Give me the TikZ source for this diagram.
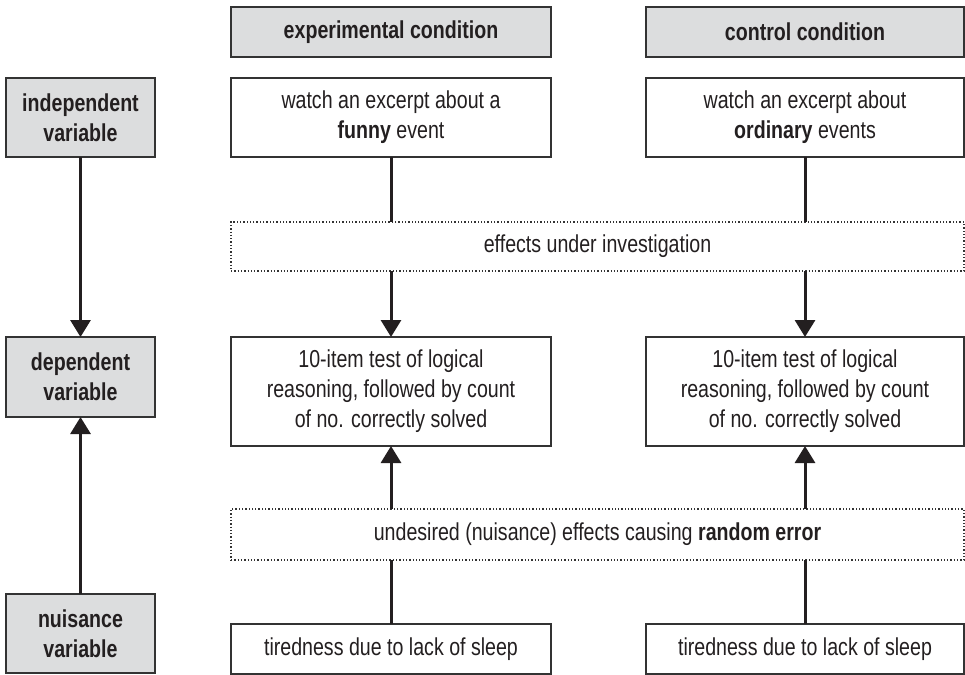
\documentclass[tikz,border=0pt]{standalone}
\usepackage{fontspec}
\setmainfont{Liberation Sans}[FakeStretch=0.8]
\usetikzlibrary{arrows.meta}
\definecolor{boxgray}{HTML}{DCDDDE}
\definecolor{ink}{HTML}{231F20}
\definecolor{edge}{HTML}{333333}
\begin{document}
\begin{tikzpicture}[x=1pt,y=-1pt,
  every node/.style={inner sep=0pt, outer sep=0pt, align=center, text=ink,
    font=\fontsize{24.5}{30}\selectfont},
  plainbox/.style={draw=edge, line width=1.4pt, fill=white},
  graybox/.style={draw=edge, line width=1.4pt, fill=boxgray, font=\fontsize{24.5}{30}\selectfont\bfseries},
  dotbox/.style={draw=edge, line width=1.3pt, dotted},
  sz/.style n args={2}{minimum width=#1pt, minimum height=#2pt},
  link/.style={draw=ink, line width=3pt},
  arr/.style={link, -{Triangle[width=20pt,length=17pt]}}
]
\useasboundingbox (0,0) rectangle (965,674);
% headers
\node[graybox, sz={320}{50}] (hexp) at (391,32) {experimental condition};
\node[graybox, sz={318}{50}] (hctl) at (805,32) {control condition};
% left column
\node[graybox, sz={149}{79}] (indep) at (80.5,117.5) {independent\\variable};
\node[graybox, sz={149}{80}] (dep) at (80.5,377) {dependent\\variable};
\node[graybox, sz={149}{79}] (nuisv) at (80.5,633.5) {nuisance\\variable};
% row 1
\node[plainbox, sz={320}{79}] (exp1) at (391,117.5) {watch an excerpt about a\\\textbf{funny} event};
\node[plainbox, sz={318}{79}] (ctl1) at (805,117.5) {watch an excerpt about\\\textbf{ordinary} events};
% effects
\node[dotbox, sz={733}{49}] (eff) at (597.5,246.5) {effects under investigation};
% row 2
\node[plainbox, sz={320}{109}] (exp2) at (391,391.5) {10-item test of logical\\reasoning, followed by count\\of no. correctly solved};
\node[plainbox, sz={318}{109}] (ctl2) at (805,391.5) {10-item test of logical\\reasoning, followed by count\\of no. correctly solved};
% nuisance effects
\node[dotbox, sz={733}{51}] (nui) at (597.5,534.5) {undesired (nuisance) effects causing \textbf{random error}};
% row 3
\node[plainbox, sz={320}{50}] (exp3) at (391,649) {tiredness due to lack of sleep};
\node[plainbox, sz={318}{50}] (ctl3) at (805,649) {tiredness due to lack of sleep};
% connectors
\draw[arr] (indep.south) -- (dep.north);
\draw[arr] (nuisv.north) -- (dep.south);
\draw[link] (exp1.south) -- (exp1.south |- eff.north);
\draw[arr] (exp2.north |- eff.south) -- (exp2.north);
\draw[link] (ctl1.south) -- (ctl1.south |- eff.north);
\draw[arr] (ctl2.north |- eff.south) -- (ctl2.north);
\draw[link] (exp3.north) -- (exp3.north |- nui.south);
\draw[arr] (exp2.south |- nui.north) -- (exp2.south);
\draw[link] (ctl3.north) -- (ctl3.north |- nui.south);
\draw[arr] (ctl2.south |- nui.north) -- (ctl2.south);
\end{tikzpicture}
\end{document}
